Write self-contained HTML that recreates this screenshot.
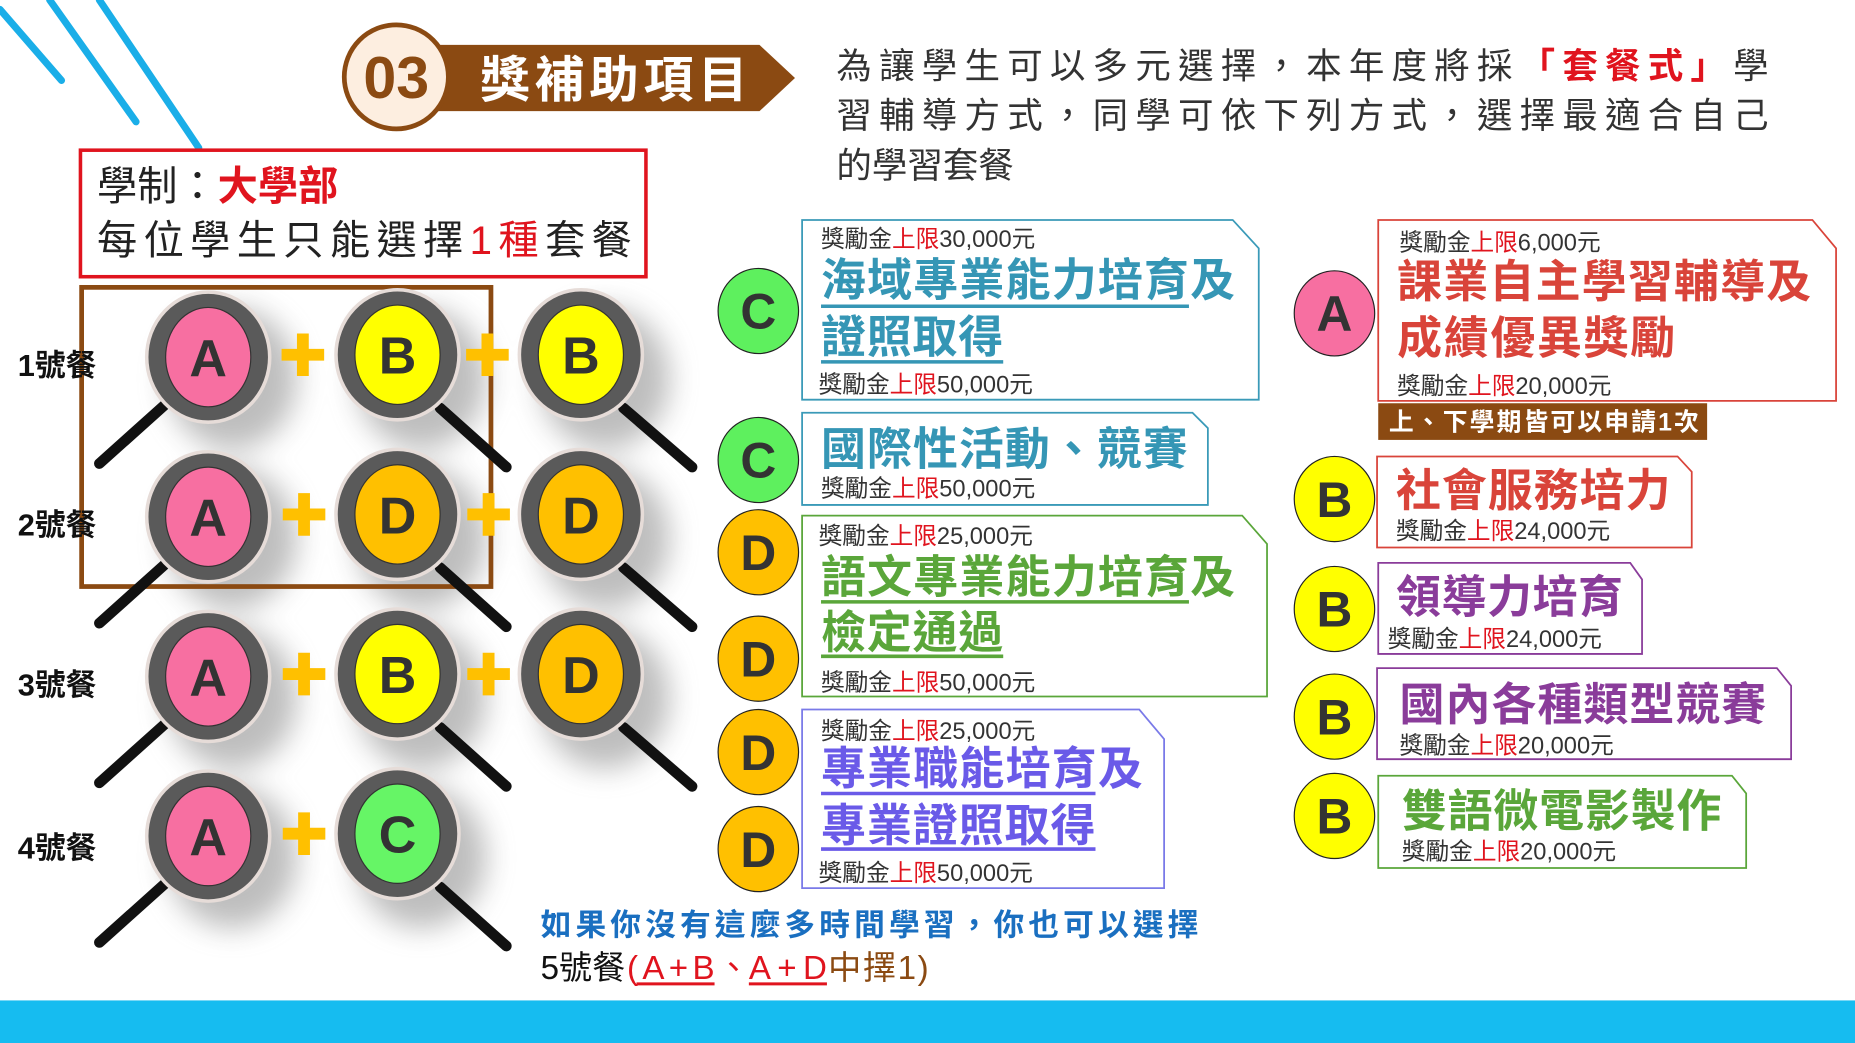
<!DOCTYPE html>
<html><head><meta charset="utf-8"><style>
html,body{margin:0;padding:0;background:#fff;}
svg{display:block;}
text{font-family:"Liberation Sans","Noto Sans CJK TC",sans-serif;}
</style></head><body>
<svg width="1855" height="1043" viewBox="0 0 1568 882" preserveAspectRatio="none" xmlns="http://www.w3.org/2000/svg">
<defs>
<filter id="bl" x="-50%" y="-50%" width="200%" height="200%"><feGaussianBlur stdDeviation="12"/></filter>
</defs>
<rect width="1568" height="882" fill="#fff"/>
<g stroke="#1aaee8" stroke-width="6" stroke-linecap="round">
<line x1="0" y1="8" x2="52" y2="68"/>
<line x1="42" y1="0" x2="115" y2="103"/>
<line x1="84" y1="0" x2="168" y2="125"/>
</g>
<polygon points="365,38 642,38 672,66 642,94 365,94" fill="#8b4a12"/>
<circle cx="335" cy="65" r="44" fill="#fdeee0" stroke="#8b4a12" stroke-width="4"/>
<text x="335" y="83" font-size="50" font-weight="bold" fill="#8b4a12" text-anchor="middle">03</text>
<text x="406" y="82" font-size="42" font-weight="bold" fill="#fff" textLength="226">獎補助項目</text>
<g font-size="30" fill="#333">
<text x="707" y="66" textLength="788">為讓學生可以多元選擇，本年度將採<tspan fill="#e0141e" font-weight="bold">「套餐式」</tspan>學</text>
<text x="707" y="108" textLength="788">習輔導方式，同學可依下列方式，選擇最適合自己</text>
<text x="707" y="150">的學習套餐</text>
</g>
<rect x="68" y="127" width="478" height="107" fill="#fff" stroke="#e0141e" stroke-width="3"/>
<text x="82" y="169" font-size="34" fill="#222">學制：<tspan fill="#e0141e" font-weight="bold">大學部</tspan></text>
<text x="82" y="215" font-size="34" fill="#222" textLength="452">每位學生只能選擇<tspan fill="#e0141e">1種</tspan>套餐</text>

<g fill="#888" opacity="0.55" filter="url(#bl)">
<ellipse cx="196" cy="320" rx="55" ry="60"/><ellipse cx="356" cy="320" rx="55" ry="60"/><ellipse cx="511" cy="320" rx="55" ry="60"/>
<ellipse cx="196" cy="455" rx="55" ry="60"/><ellipse cx="356" cy="455" rx="55" ry="60"/><ellipse cx="511" cy="455" rx="55" ry="60"/>
<ellipse cx="196" cy="590" rx="55" ry="60"/><ellipse cx="356" cy="590" rx="55" ry="60"/><ellipse cx="511" cy="590" rx="55" ry="60"/>
<ellipse cx="196" cy="725" rx="55" ry="60"/><ellipse cx="356" cy="725" rx="55" ry="60"/>
</g>
<rect x="69" y="243" width="346" height="253" fill="none" stroke="#8b4a12" stroke-width="4"/>

<g stroke="#111" stroke-width="9" stroke-linecap="round">
<line x1="142" y1="340" x2="84" y2="392"/><line x1="372" y1="345" x2="428" y2="395"/><line x1="527" y1="345" x2="585" y2="395"/>
<line x1="142" y1="475" x2="84" y2="527"/><line x1="372" y1="480" x2="428" y2="530"/><line x1="527" y1="480" x2="585" y2="530"/>
<line x1="142" y1="610" x2="84" y2="662"/><line x1="372" y1="615" x2="428" y2="665"/><line x1="527" y1="615" x2="585" y2="665"/>
<line x1="142" y1="745" x2="84" y2="797"/><line x1="372" y1="750" x2="428" y2="800"/>
</g>
<g stroke="#e6dcd8" stroke-width="3" fill="#5a5a5a">
<ellipse cx="176" cy="302" rx="52" ry="55"/><ellipse cx="336" cy="300" rx="52" ry="55"/><ellipse cx="491" cy="300" rx="52" ry="55"/>
<ellipse cx="176" cy="437" rx="52" ry="55"/><ellipse cx="336" cy="435" rx="52" ry="55"/><ellipse cx="491" cy="435" rx="52" ry="55"/>
<ellipse cx="176" cy="572" rx="52" ry="55"/><ellipse cx="336" cy="570" rx="52" ry="55"/><ellipse cx="491" cy="570" rx="52" ry="55"/>
<ellipse cx="176" cy="707" rx="52" ry="55"/><ellipse cx="336" cy="705" rx="52" ry="55"/>
</g>
<g stroke="#333" stroke-width="1">
<ellipse cx="176" cy="302" rx="36" ry="42" fill="#f76fa1"/><ellipse cx="336" cy="300" rx="36" ry="42" fill="#ffff00"/><ellipse cx="491" cy="300" rx="36" ry="42" fill="#ffff00"/>
<ellipse cx="176" cy="437" rx="36" ry="42" fill="#f76fa1"/><ellipse cx="336" cy="435" rx="36" ry="42" fill="#ffc000"/><ellipse cx="491" cy="435" rx="36" ry="42" fill="#ffc000"/>
<ellipse cx="176" cy="572" rx="36" ry="42" fill="#f76fa1"/><ellipse cx="336" cy="570" rx="36" ry="42" fill="#ffff00"/><ellipse cx="491" cy="570" rx="36" ry="42" fill="#ffc000"/>
<ellipse cx="176" cy="707" rx="36" ry="42" fill="#f76fa1"/><ellipse cx="336" cy="705" rx="36" ry="42" fill="#66f566"/>
</g>
<g font-size="44" font-weight="bold" fill="#333" text-anchor="middle">
<text x="176" y="318">A</text><text x="336" y="316">B</text><text x="491" y="316">B</text>
<text x="176" y="453">A</text><text x="336" y="451">D</text><text x="491" y="451">D</text>
<text x="176" y="588">A</text><text x="336" y="586">B</text><text x="491" y="586">D</text>
<text x="176" y="723">A</text><text x="336" y="721">C</text>
</g>
<g fill="#ffc000">
<path d="M251,282h10v13h13v10h-13v13h-10v-13h-13v-10h13z"/>
<path d="M407,282h10v13h13v10h-13v13h-10v-13h-13v-10h13z"/>
<path d="M252,417h10v13h13v10h-13v13h-10v-13h-13v-10h13z"/>
<path d="M408,417h10v13h13v10h-13v13h-10v-13h-13v-10h13z"/>
<path d="M252,552h10v13h13v10h-13v13h-10v-13h-13v-10h13z"/>
<path d="M408,552h10v13h13v10h-13v13h-10v-13h-13v-10h13z"/>
<path d="M252,687h10v13h13v10h-13v13h-10v-13h-13v-10h13z"/>
</g>
<g font-size="26" font-weight="bold" fill="#111">
<text x="15" y="318">1號餐</text><text x="15" y="453">2號餐</text><text x="15" y="588">3號餐</text><text x="15" y="726">4號餐</text>
</g>

<g stroke="#222" stroke-width="1">
<ellipse cx="641" cy="263" rx="34" ry="36" fill="#5ef05e"/>
<ellipse cx="641" cy="389" rx="34" ry="36" fill="#5ef05e"/>
<ellipse cx="641" cy="467" rx="34" ry="36" fill="#ffc000"/>
<ellipse cx="641" cy="557" rx="34" ry="36" fill="#ffc000"/>
<ellipse cx="641" cy="636" rx="34" ry="36" fill="#ffc000"/>
<ellipse cx="641" cy="718" rx="34" ry="36" fill="#ffc000"/>
<ellipse cx="1128" cy="265" rx="34" ry="36" fill="#f76fa1"/>
<ellipse cx="1128" cy="422" rx="34" ry="36" fill="#ffff00"/>
<ellipse cx="1128" cy="515" rx="34" ry="36" fill="#ffff00"/>
<ellipse cx="1128" cy="606" rx="34" ry="36" fill="#ffff00"/>
<ellipse cx="1128" cy="690" rx="34" ry="36" fill="#ffff00"/>
</g>
<g font-size="42" font-weight="bold" fill="#333" text-anchor="middle">
<text x="641" y="278">C</text><text x="641" y="404">C</text><text x="641" y="482">D</text><text x="641" y="572">D</text><text x="641" y="651">D</text><text x="641" y="733">D</text>
<text x="1128" y="280">A</text><text x="1128" y="437">B</text><text x="1128" y="530">B</text><text x="1128" y="621">B</text><text x="1128" y="705">B</text>
</g>

<g fill="#fff" stroke-width="1.5">
<polygon points="678,186 1042,186 1064,210 1064,338 678,338" stroke="#3a9ab8"/>
<polygon points="678,349 1008,349 1021,362 1021,427 678,427" stroke="#3a9ab8"/>
<polygon points="678,436 1050,436 1071,460 1071,589 678,589" stroke="#5aa63a"/>
<polygon points="678,600 963,600 984,625 984,751 678,751" stroke="#7a7ae8"/>
<polygon points="1165,186 1532,186 1552,210 1552,339 1165,339" stroke="#d9443a"/>
<polygon points="1164,386 1418,386 1430,399 1430,463 1164,463" stroke="#d9443a"/>
<polygon points="1165,476 1378,476 1388,490 1388,553 1165,553" stroke="#8a3c9a"/>
<polygon points="1164,565 1502,565 1514,580 1514,642 1164,642" stroke="#8a3c9a"/>
<polygon points="1165,656 1464,656 1476,671 1476,734 1165,734" stroke="#5aa63a"/>
</g>
<rect x="1165" y="341" width="278" height="31" fill="#8b4a12"/>
<text x="1174" y="364" font-size="21" font-weight="bold" fill="#fff" textLength="262">上、下學期皆可以申請1次</text>

<g font-size="20" fill="#333">
<text x="694" y="209">獎勵金<tspan fill="#e0141e">上限</tspan>30,000元</text>
<text x="692" y="332">獎勵金<tspan fill="#e0141e">上限</tspan>50,000元</text>
<text x="694" y="420">獎勵金<tspan fill="#e0141e">上限</tspan>50,000元</text>
<text x="692" y="460">獎勵金<tspan fill="#e0141e">上限</tspan>25,000元</text>
<text x="694" y="584">獎勵金<tspan fill="#e0141e">上限</tspan>50,000元</text>
<text x="694" y="625">獎勵金<tspan fill="#e0141e">上限</tspan>25,000元</text>
<text x="692" y="745">獎勵金<tspan fill="#e0141e">上限</tspan>50,000元</text>
<text x="1183" y="212">獎勵金<tspan fill="#e0141e">上限</tspan>6,000元</text>
<text x="1181" y="333">獎勵金<tspan fill="#e0141e">上限</tspan>20,000元</text>
<text x="1180" y="456">獎勵金<tspan fill="#e0141e">上限</tspan>24,000元</text>
<text x="1173" y="547">獎勵金<tspan fill="#e0141e">上限</tspan>24,000元</text>
<text x="1183" y="637">獎勵金<tspan fill="#e0141e">上限</tspan>20,000元</text>
<text x="1185" y="727">獎勵金<tspan fill="#e0141e">上限</tspan>20,000元</text>
</g>
<g font-size="38" font-weight="bold">
<text x="694" y="250" fill="#3596b5" textLength="350">海域專業能力培育及</text>
<text x="694" y="298" fill="#3596b5" textLength="154">證照取得</text>
<text x="694" y="393" fill="#3596b5" textLength="310">國際性活動、競賽</text>
<text x="694" y="501" fill="#5aa63a" textLength="350">語文專業能力培育及</text>
<text x="694" y="548" fill="#5aa63a" textLength="154">檢定通過</text>
<text x="694" y="663" fill="#6a5ae8" textLength="272">專業職能培育及</text>
<text x="694" y="711" fill="#6a5ae8" textLength="232">專業證照取得</text>
<text x="1181" y="251" fill="#d9443a" textLength="350">課業自主學習輔導及</text>
<text x="1181" y="299" fill="#d9443a" textLength="235">成績優異獎勵</text>
<text x="1180" y="428" fill="#d9443a" textLength="232">社會服務培力</text>
<text x="1180" y="518" fill="#8a3c9a" textLength="192">領導力培育</text>
<text x="1183" y="609" fill="#8a3c9a" textLength="310">國內各種類型競賽</text>
<text x="1185" y="699" fill="#5aa63a" textLength="270">雙語微電影製作</text>
</g>
<g stroke-width="3">
<line x1="694" y1="259" x2="1005" y2="259" stroke="#3596b5"/>
<line x1="694" y1="306" x2="848" y2="306" stroke="#3596b5"/>
<line x1="694" y1="509" x2="1005" y2="509" stroke="#5aa63a"/>
<line x1="694" y1="555" x2="848" y2="555" stroke="#5aa63a"/>
<line x1="694" y1="671" x2="926" y2="671" stroke="#6a5ae8"/>
<line x1="694" y1="718" x2="926" y2="718" stroke="#6a5ae8"/>
</g>

<text x="457" y="791" font-size="26" font-weight="bold" fill="#1a6fc0" textLength="556">如果你沒有這麼多時間學習，你也可以選擇</text>
<text x="457" y="828" font-size="28" fill="#111">5號餐</text>
<text x="530" y="828" font-size="28" fill="#e0141e" textLength="74">(A+B</text>
<text x="606" y="828" font-size="28" fill="#e0141e">、</text>
<text x="633" y="828" font-size="28" fill="#e0141e" textLength="66">A+D</text>
<text x="700" y="828" font-size="28" fill="#8b4a12" textLength="85">中擇1)</text>
<line x1="538" y1="832" x2="604" y2="832" stroke="#e0141e" stroke-width="2.5"/>
<line x1="633" y1="832" x2="699" y2="832" stroke="#e0141e" stroke-width="2.5"/>

<rect x="0" y="846" width="1568" height="36" fill="#16bcf0"/>
</svg>
</body></html>
